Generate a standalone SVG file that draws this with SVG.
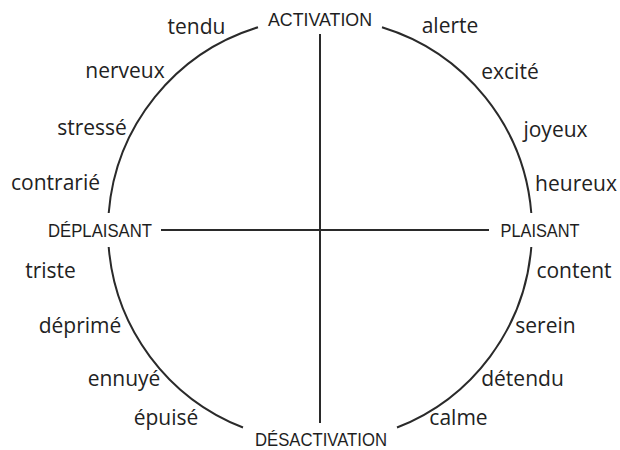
<svg xmlns="http://www.w3.org/2000/svg" width="620" height="450" viewBox="0 0 620 450">
  <style>
    .axis { fill: none; stroke: #2a2a2a; stroke-width: 2; }
    .cap { font-family: "Liberation Sans", Arial, sans-serif; font-size: 18.5px; fill: #1e1e1e; text-anchor: middle; }
    .emo { font-family: "Open Sans", "Noto Sans", sans-serif; font-size: 21px; fill: #222; text-anchor: middle; }
  </style>
  <rect width="620" height="450" fill="#ffffff"/>
  <g id="connectors">
    <path class="axis" d="M382,27.3 A212,212 0 0 1 531.3,213"/>
    <path class="axis" d="M531.3,247 A212,212 0 0 1 397,427.5"/>
    <path class="axis" d="M243,427.5 A212,212 0 0 1 108.7,247"/>
    <path class="axis" d="M108.7,213 A212,212 0 0 1 258,27.3"/>
    <line class="axis" x1="320" y1="34" x2="320" y2="423"/>
    <line class="axis" x1="161" y1="230" x2="489" y2="230"/>
  </g>
  <g id="activation"><text class="cap" x="320" y="26" textLength="104" lengthAdjust="spacingAndGlyphs">ACTIVATION</text></g>
  <g id="desactivation"><text class="cap" x="321" y="446" textLength="132" lengthAdjust="spacingAndGlyphs">DÉSACTIVATION</text></g>
  <g id="deplaisant"><text class="cap" x="100" y="237" textLength="104" lengthAdjust="spacingAndGlyphs">DÉPLAISANT</text></g>
  <g id="plaisant"><text class="cap" x="540" y="237" textLength="79" lengthAdjust="spacingAndGlyphs">PLAISANT</text></g>
  <g id="tendu"><text class="emo" x="196.5" y="34">tendu</text></g>
  <g id="alerte"><text class="emo" x="450" y="33">alerte</text></g>
  <g id="nerveux"><text class="emo" x="125" y="78">nerveux</text></g>
  <g id="excite"><text class="emo" x="510" y="79">excité</text></g>
  <g id="stresse"><text class="emo" x="92" y="135">stressé</text></g>
  <g id="joyeux"><text class="emo" x="555.5" y="137">joyeux</text></g>
  <g id="contrarie"><text class="emo" x="55.5" y="190">contrarié</text></g>
  <g id="heureux"><text class="emo" x="576" y="191">heureux</text></g>
  <g id="triste"><text class="emo" x="50.5" y="278">triste</text></g>
  <g id="content"><text class="emo" x="574" y="278">content</text></g>
  <g id="deprime"><text class="emo" x="80" y="333">déprimé</text></g>
  <g id="serein"><text class="emo" x="545.5" y="333">serein</text></g>
  <g id="ennuye"><text class="emo" x="124" y="386">ennuyé</text></g>
  <g id="detendu"><text class="emo" x="522.5" y="386">détendu</text></g>
  <g id="epuise"><text class="emo" x="166" y="425">épuisé</text></g>
  <g id="calme"><text class="emo" x="458.5" y="425">calme</text></g>
</svg>
